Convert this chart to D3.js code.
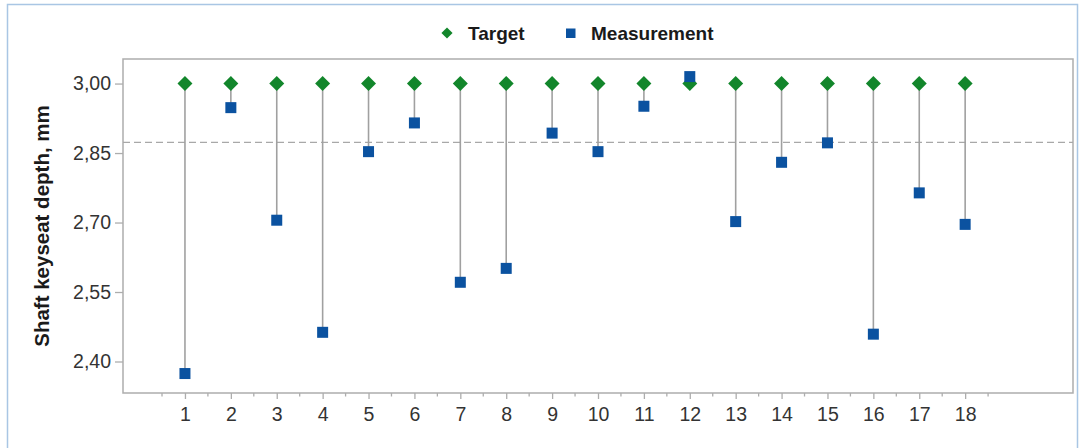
<!DOCTYPE html>
<html>
<head>
<meta charset="utf-8">
<script src="https://cdn.jsdelivr.net/npm/d3@7"></script>
<style>
  html, body { margin: 0; padding: 0; background: #ffffff; }
  svg { display: block; font-family: "Liberation Sans", Arial, sans-serif; }
</style>
</head>
<body>
<svg id="chart" width="1085" height="448"></svg>
<script>
// Shaft keyseat depth per sample: target vs. measured (mm)
const samples = d3.range(1, 19);
const targetValues = [3.00, 3.00, 3.00, 3.00, 3.00, 3.00, 3.00, 3.00, 3.00,
                      3.00, 3.00, 3.00, 3.00, 3.00, 3.00, 3.00, 3.00, 3.00];
const measuredValues = [2.374, 2.948, 2.705, 2.463, 2.853, 2.915, 2.571, 2.601, 2.893,
                        2.853, 2.951, 3.015, 2.702, 2.830, 2.872, 2.459, 2.764, 2.696];
const referenceLevel = 2.873;
const yTickValues = [2.40, 2.55, 2.70, 2.85, 3.00];
const legendLabels = ["Target", "Measurement"];
const axisTitle = "Shaft keyseat depth, mm";

const colors = { target: "#12862b", measured: "#0b52a0", stem: "#a0a0a0", frame: "#adadad", text: "#333333" };

const svg = d3.select("#chart");
const plot = { left: 123, right: 1073, top: 59, bottom: 393 };

const x = d3.scaleLinear().domain([-0.35, 20.35]).range([plot.left, plot.right]);
const y = d3.scaleLinear().domain([2.332, 3.053]).range([plot.bottom, plot.top]);

// Outer panel border
svg.append("path")
  .attr("d", `M7.5,448 V4.5 H1077.5 V448`)
  .attr("fill", "none").attr("stroke", "#a9c6e4").attr("stroke-width", 1.5);

// Plot frame
svg.append("rect")
  .attr("x", plot.left).attr("y", plot.top)
  .attr("width", plot.right - plot.left).attr("height", plot.bottom - plot.top)
  .attr("fill", "#ffffff").attr("stroke", colors.frame).attr("stroke-width", 1.5);

// Reference level (dashed)
svg.append("line")
  .attr("x1", plot.left).attr("x2", plot.right)
  .attr("y1", y(referenceLevel)).attr("y2", y(referenceLevel))
  .attr("stroke", "#a8a8a8").attr("stroke-width", 1.3).attr("stroke-dasharray", "7,4");

// Y axis
const commaFmt = d3.formatLocale({ decimal: ",", thousands: ".", grouping: [3], currency: ["", ""] }).format(".2f");
const yAxis = d3.axisLeft(y).tickValues(yTickValues).tickFormat(commaFmt).tickSize(8).tickPadding(4);
const gy = svg.append("g").attr("transform", `translate(${plot.left},0)`).call(yAxis);
gy.select(".domain").remove();
gy.selectAll(".tick line").attr("stroke", colors.frame).attr("stroke-width", 1.3);
gy.selectAll(".tick text").attr("fill", colors.text).style("font-size", "19.5px");

// X axis: major ticks at samples, minor at half steps
const xAxis = d3.axisBottom(x).tickValues(samples).tickFormat(d3.format("d")).tickSize(6).tickPadding(8);
const gx = svg.append("g").attr("transform", `translate(0,${plot.bottom})`).call(xAxis);
gx.select(".domain").remove();
gx.selectAll(".tick line").attr("stroke", colors.frame).attr("stroke-width", 1.3);
gx.selectAll(".tick text").attr("fill", colors.text).style("font-size", "19.5px");

const minorTicks = d3.range(0.5, 19, 1);
svg.append("g").selectAll("line").data(minorTicks).join("line")
  .attr("x1", d => x(d)).attr("x2", d => x(d))
  .attr("y1", plot.bottom).attr("y2", plot.bottom + 3.5)
  .attr("stroke", colors.frame).attr("stroke-width", 1.3);

// Data rows
const rows = samples.map((s, i) => ({ sample: s, target: targetValues[i], measured: measuredValues[i] }));

// Stems from target to measurement
svg.append("g").selectAll("line").data(rows).join("line")
  .attr("x1", d => x(d.sample)).attr("x2", d => x(d.sample))
  .attr("y1", d => y(d.target)).attr("y2", d => y(d.measured))
  .attr("stroke", colors.stem).attr("stroke-width", 1.6);

// Target markers (diamonds: rotated squares)
svg.append("g").selectAll("path").data(rows).join("path")
  .attr("d", d3.symbol().type(d3.symbolSquare).size(112))
  .attr("transform", d => `translate(${x(d.sample)},${y(d.target)}) rotate(45)`)
  .attr("fill", colors.target);

// Measurement markers (squares)
svg.append("g").selectAll("rect").data(rows).join("rect")
  .attr("x", d => x(d.sample) - 5.5).attr("y", d => y(d.measured) - 5.5)
  .attr("width", 11).attr("height", 11)
  .attr("fill", colors.measured);

// Y axis title
svg.append("text")
  .attr("transform", `translate(49,${(plot.top + plot.bottom) / 2}) rotate(-90)`)
  .attr("text-anchor", "middle")
  .attr("fill", "#1a1a1a")
  .style("font-size", "20.5px").style("font-weight", "bold")
  .text(axisTitle);

// Legend
const legend = svg.append("g");
legend.append("path")
  .attr("d", d3.symbol().type(d3.symbolSquare).size(62))
  .attr("transform", "translate(447,33) rotate(45)")
  .attr("fill", colors.target);
legend.append("text").attr("x", 468).attr("y", 40)
  .attr("fill", "#1a1a1a").style("font-size", "19px").style("font-weight", "bold")
  .text(legendLabels[0]);
legend.append("rect").attr("x", 566).attr("y", 28.5).attr("width", 9.5).attr("height", 9.5)
  .attr("fill", colors.measured);
legend.append("text").attr("x", 591).attr("y", 40)
  .attr("fill", "#1a1a1a").style("font-size", "19px").style("font-weight", "bold")
  .text(legendLabels[1]);
</script>
</body>
</html>
